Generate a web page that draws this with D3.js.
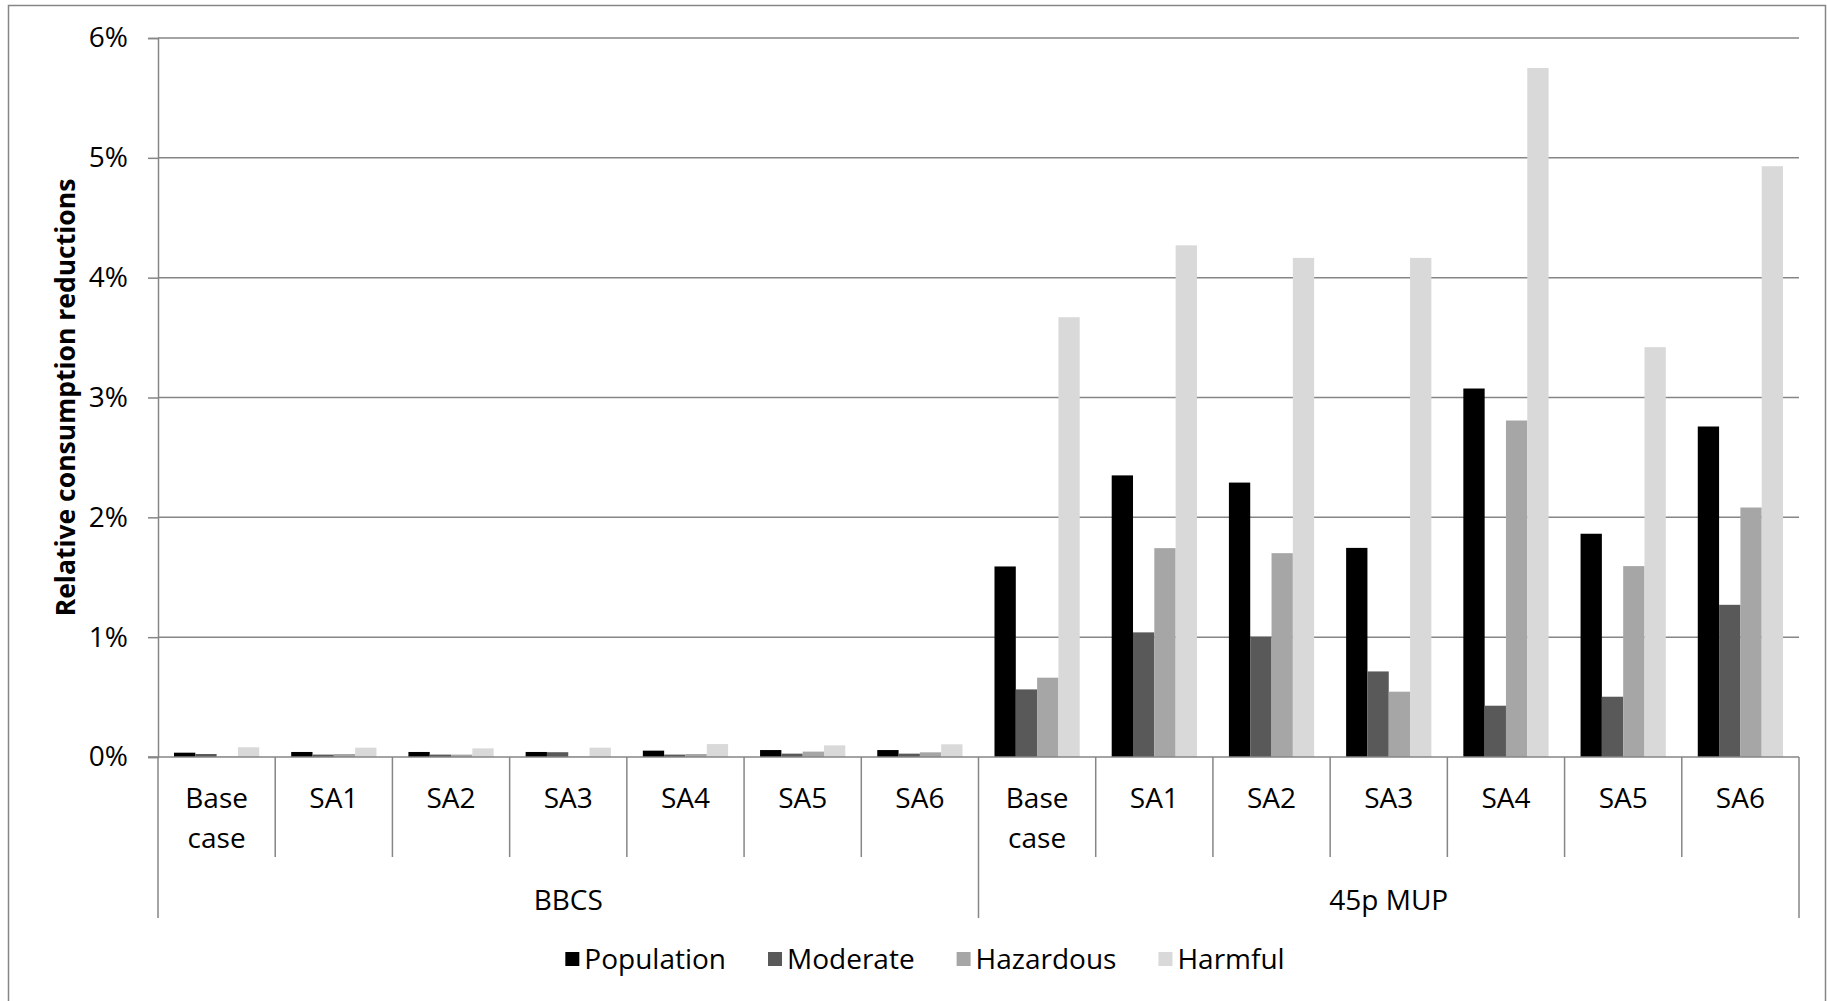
<!DOCTYPE html>
<html>
<head>
<meta charset="utf-8">
<script src="https://cdn.jsdelivr.net/npm/d3@7"></script>
<style>
  html, body { margin: 0; padding: 0; background: #fff; }
  svg { display: block; }
  text { font-family: "Open Sans", "DejaVu Sans", sans-serif; fill: #000; }
</style>
</head>
<body>
<svg id="chart" width="1827" height="1001"></svg>
<script>
// Relative consumption reductions (%), by scenario and drinker group
const categories = ["Base case", "SA1", "SA2", "SA3", "SA4", "SA5", "SA6",
                    "Base case", "SA1", "SA2", "SA3", "SA4", "SA5", "SA6"];
const groups = ["BBCS", "45p MUP"];
const groupSizes = [7, 7];
const seriesNames = ["Population", "Moderate", "Hazardous", "Harmful"];
const seriesColors = ["#000000", "#595959", "#a6a6a6", "#d9d9d9"];

const population = [0.036, 0.042, 0.042, 0.042, 0.053, 0.058, 0.058,
                    1.59, 2.35, 2.29, 1.745, 3.075, 1.863, 2.758];
const moderate   = [0.025, 0.020, 0.020, 0.040, 0.020, 0.028, 0.028,
                    0.564, 1.04, 1.004, 0.714, 0.428, 0.503, 1.27];
const hazardous  = [0.003, 0.025, 0.020, 0.003, 0.025, 0.045, 0.039,
                    0.662, 1.743, 1.701, 0.545, 2.808, 1.593, 2.082];
const harmful    = [0.081, 0.078, 0.072, 0.078, 0.108, 0.097, 0.106,
                    3.67, 4.27, 4.165, 4.165, 5.75, 3.42, 4.93];

const yTicks = [0, 1, 2, 3, 4, 5, 6];
const yTitle = "Relative consumption reductions";

const seriesValues = [population, moderate, hazardous, harmful];

const svg = d3.select("#chart");
const grey = "#868686";
const fontSize = 28;

// chart frame
svg.append("rect")
  .attr("x", 8.5).attr("y", 5.5)
  .attr("width", 1817).attr("height", 1010)
  .attr("fill", "none").attr("stroke", grey).attr("stroke-width", 1.5);

const plotLeft = 158, plotRight = 1799, plotTop = 38, plotBottom = 757;
const catBottom = 857, groupBottom = 918;

const y = d3.scaleLinear().domain([0, 6]).range([plotBottom, plotTop]);
const x = d3.scaleBand().domain(d3.range(categories.length)).range([plotLeft, plotRight]).padding(0);
const xInner = d3.scaleBand().domain(seriesNames).range([0, x.bandwidth()])
  .paddingInner(0).paddingOuter(0.75);

// horizontal gridlines
svg.append("g").selectAll("line")
  .data(yTicks.filter(d => d > 0))
  .join("line")
  .attr("x1", plotLeft).attr("x2", plotRight)
  .attr("y1", d => y(d)).attr("y2", d => y(d))
  .attr("stroke", grey).attr("stroke-width", 1.5);

// bars
const barData = [];
seriesValues.forEach((vals, si) => {
  vals.forEach((v, ci) => barData.push({ si, ci, v }));
});
svg.append("g").selectAll("rect")
  .data(barData)
  .join("rect")
  .attr("x", d => x(d.ci) + xInner(seriesNames[d.si]))
  .attr("y", d => y(d.v))
  .attr("width", xInner.bandwidth())
  .attr("height", d => y(0) - y(d.v))
  .attr("fill", d => seriesColors[d.si]);

// value axis
const yAxis = svg.append("g")
  .attr("transform", `translate(${plotLeft},0)`)
  .call(d3.axisLeft(y).tickValues(yTicks).tickSize(10).tickPadding(20)
    .tickFormat(d => d + "%"));
yAxis.select(".domain").attr("stroke", grey).attr("stroke-width", 1.5);
yAxis.selectAll(".tick line").attr("stroke", grey).attr("stroke-width", 1.5);
yAxis.selectAll(".tick text")
  .attr("font-size", fontSize)
  .attr("font-family", "Open Sans")
  .attr("fill", "#000");

// baseline
svg.append("line")
  .attr("x1", plotLeft - 10).attr("x2", plotRight)
  .attr("y1", plotBottom).attr("y2", plotBottom)
  .attr("stroke", grey).attr("stroke-width", 1.5);

// category separators: short between scenarios, long at group edges
const groupEdges = [0];
groupSizes.reduce((acc, n) => { groupEdges.push(acc + n); return acc + n; }, 0);
svg.append("g").selectAll("line")
  .data(d3.range(categories.length + 1))
  .join("line")
  .attr("x1", i => i < categories.length ? x(i) : plotRight)
  .attr("x2", i => i < categories.length ? x(i) : plotRight)
  .attr("y1", plotBottom)
  .attr("y2", i => groupEdges.includes(i) ? groupBottom : catBottom)
  .attr("stroke", grey).attr("stroke-width", 1.5);

// category labels
const catLabels = svg.append("g").selectAll("text")
  .data(categories)
  .join("text")
  .attr("text-anchor", "middle")
  .attr("font-size", fontSize);
catLabels.each(function (d, i) {
  const words = d.split(" ");
  const t = d3.select(this);
  words.forEach((w, k) => {
    t.append("tspan")
      .attr("x", x(i) + x.bandwidth() / 2)
      .attr("y", 798 + k * 40)
      .attr("dy", "0.35em")
      .text(w);
  });
});

// group labels
let start = 0;
groups.forEach((g, gi) => {
  const n = groupSizes[gi];
  const cx = (x(start) + (start + n < categories.length ? x(start + n) : plotRight)) / 2;
  svg.append("text")
    .attr("x", cx).attr("y", 900).attr("dy", "0.35em")
    .attr("text-anchor", "middle").attr("font-size", fontSize)
    .text(g);
  start += n;
});

// axis title
svg.append("text")
  .attr("transform", `translate(66,${(plotTop + plotBottom) / 2}) rotate(-90)`)
  .attr("text-anchor", "middle").attr("dy", "0.35em")
  .attr("font-size", 26.5).attr("font-weight", "bold")
  .text(yTitle);

// legend
const legend = svg.append("g");
const items = legend.selectAll("g")
  .data(seriesNames)
  .join("g");
items.append("rect")
  .attr("width", 14).attr("height", 14)
  .attr("y", -7)
  .attr("fill", (d, i) => seriesColors[i]);
items.append("text")
  .attr("x", 19).attr("dy", "0.35em")
  .attr("font-size", fontSize)
  .text(d => d);
const legendGap = 42;
let lx = 0;
items.each(function () {
  const w = this.getBBox().width;
  d3.select(this).attr("transform", `translate(${lx},0)`);
  lx += w + legendGap;
});
const legendW = lx - legendGap;
legend.attr("transform", `translate(${925 - legendW / 2},959)`);
</script>
</body>
</html>
